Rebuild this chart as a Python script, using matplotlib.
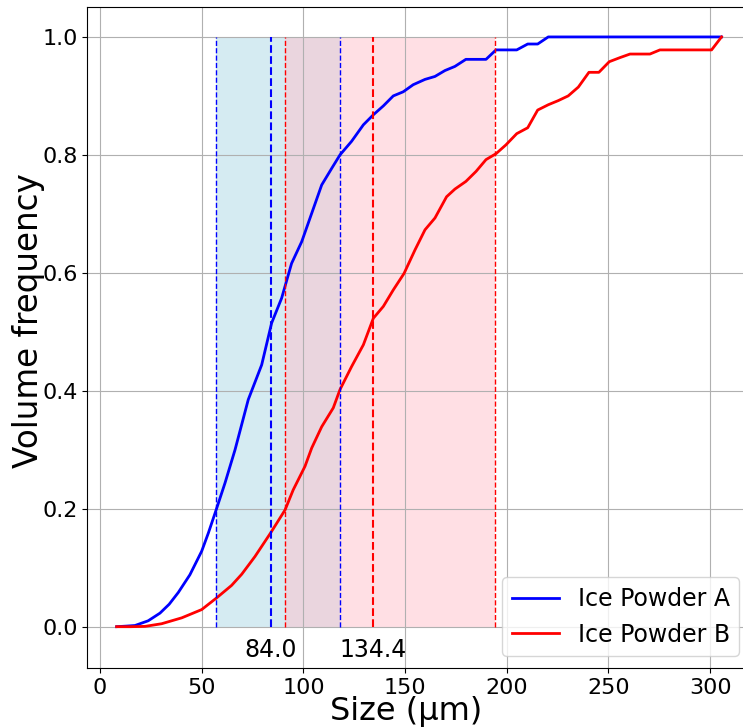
import matplotlib
matplotlib.use('Agg')
import matplotlib.pyplot as plt

# cumulative volume frequency
size_a = [8.2, 13.0, 17.2, 23.7, 29.5, 34.0, 38.5, 44.2, 50.0, 53.3, 57.4, 61.5, 66.4, 72.9,
          79.5, 84.4, 89.3, 94.2, 99.2, 104.1, 109.0, 113.9, 118.0, 123.7, 129.5, 134.4, 139.3,
          144.2, 149.1, 154.0, 159.8, 164.7, 169.6, 174.5, 179.9, 184.8, 189.8, 194.7, 199.7,
          204.9, 210.3, 215.2, 220.4, 305.6]
freq_a = [0.0, 0.001, 0.002, 0.010, 0.023, 0.038, 0.058, 0.088, 0.128, 0.159, 0.201, 0.244, 0.300, 0.385,
          0.444, 0.515, 0.557, 0.616, 0.653, 0.701, 0.749, 0.777, 0.800, 0.823, 0.851, 0.868, 0.883,
          0.900, 0.907, 0.919, 0.928, 0.933, 0.943, 0.950, 0.962, 0.962, 0.962, 0.978, 0.978,
          0.978, 0.988, 0.988, 1.0, 1.0]

size_b = [8.2, 15.0, 22.1, 30.3, 40.2, 50.0, 57.4, 64.7, 69.7, 76.2, 83.9, 91.0, 95.0, 100.8,
          104.1, 109.0, 114.7, 118.0, 123.7, 129.5, 134.4, 139.3, 144.2, 149.5, 154.9, 159.8,
          164.7, 170.4, 174.5, 179.9, 184.9, 189.8, 194.7, 199.6, 204.9, 210.3, 215.2, 220.4,
          225.3, 230.2, 235.2, 240.4, 245.3, 250.4, 255.7, 260.6, 265.5, 270.4, 275.3, 300.7, 305.6]
freq_b = [0.0, 0.0, 0.0005, 0.005, 0.015, 0.029, 0.049, 0.070, 0.089, 0.119, 0.159, 0.198, 0.232, 0.272,
          0.303, 0.339, 0.371, 0.402, 0.441, 0.478, 0.523, 0.543, 0.571, 0.599, 0.639, 0.673,
          0.693, 0.729, 0.742, 0.755, 0.772, 0.792, 0.802, 0.817, 0.836, 0.846, 0.876, 0.885,
          0.892, 0.900, 0.915, 0.940, 0.940, 0.958, 0.965, 0.971, 0.971, 0.971, 0.978, 0.978, 1.0]

# d10, d50, d90
d_a = [57.2, 84.0, 118.2]
d_b = [90.8, 134.4, 194.0]

fig = plt.figure(figsize=(7.43, 7.27), dpi=100)
ax = fig.add_axes([0.1175, 0.0812, 0.8933, 0.9092])

ax.fill_betweenx([0, 1], d_a[0], d_a[2], color='lightblue', alpha=0.5, lw=0)
ax.fill_betweenx([0, 1], d_b[0], d_b[2], color='pink', alpha=0.5, lw=0)

ax.plot(size_a, freq_a, color='blue', lw=2, label='Ice Powder A')
ax.plot(size_b, freq_b, color='red', lw=2, label='Ice Powder B')

ax.vlines([d_a[0], d_a[2]], 0, 1, colors='blue', linestyles='--', lw=1)
ax.vlines([d_a[1]], 0, 1, colors='blue', linestyles='--', lw=1.5)
ax.vlines([d_b[0], d_b[2]], 0, 1, colors='red', linestyles='--', lw=1)
ax.vlines([d_b[1]], 0, 1, colors='red', linestyles='--', lw=1.5)

ax.text(d_a[1], -0.02, '%.1f' % d_a[1], ha='center', va='top', fontsize=17)
ax.text(d_b[1], -0.02, '%.1f' % d_b[1], ha='center', va='top', fontsize=17)

ax.set_xlim(-6.24, 320.1)
ax.set_ylim(-0.0700, 1.0508)
ax.grid(True)
ax.spines['right'].set_visible(False)
ax.tick_params(labelsize=16)
ax.set_xlabel('Size (µm)', fontsize=23)
ax.set_ylabel('Volume frequency', fontsize=23.5)
ax.xaxis.set_label_coords(0.480, -0.042)
ax.yaxis.set_label_coords(-0.063, 0.525)
ax.legend(loc='lower right', fontsize=17)

fig.savefig('out.png', dpi=100)
